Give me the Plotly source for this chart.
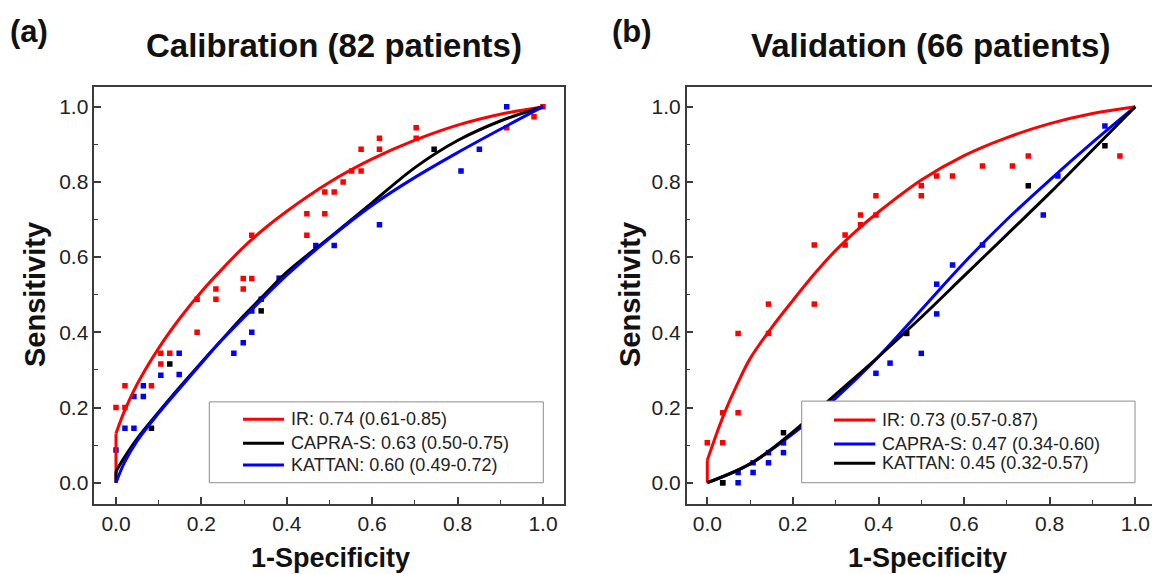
import plotly.graph_objects as go

W, H = 1152, 574
FONT = "Liberation Sans, Arial, sans-serif"
RED, BLUE, BLACK = "#ff0000", "#0000ff", "#000000"

# ---------------- Panel (a): Calibration (82 patients) ----------------
a_ir_curve_x = [0, 0, .02, .05, .1, .15, .2, .25, .3, .35, .4, .5, .6, .7, .8, .9, 1]
a_ir_curve_y = [0, .131, .191, .263, .358, .438, .508, .57, .628, .678, .722, .799, .861, .911, .951, .98, 1]
a_capra_curve_x = [0, 0, .02, .05, .1, .15, .2, .25, .3, .35, .4, .5, .6, .7, .8, .9, 1]
a_capra_curve_y = [0, .03, .068, .118, .188, .255, .32, .383, .445, .503, .56, .652, .745, .838, .91, .962, 1]
a_kattan_curve_x = [0, .02, .05, .1, .15, .2, .25, .3, .35, .4, .5, .6, .7, .8, .9, 1]
a_kattan_curve_y = [0, .054, .112, .185, .252, .318, .382, .44, .497, .552, .65, .738, .812, .878, .94, 1]

a_ir_pts_x = [0, .021, .021, .083, .105, .105, .126, .19, .19, .234, .234, .298, .298, .318, .318, .447, .447,
              .489, .489, .511, .532, .552, .574, .574, .617, .617, .703, .703, .915, .979, 1]
a_ir_pts_y = [.2, .2, .258, .258, .316, .344, .344, .40, .488, .488, .515, .515, .543, .543, .658, .658, .715,
              .715, .773, .773, .80, .829, .829, .887, .887, .916, .916, .944, .944, .973, 1]
a_capra_pts_x = [.083, .126, .34, .745]
a_capra_pts_y = [.145, .316, .457, .887]
a_kattan_pts_x = [0, .021, .042, .042, .064, .064, .105, .148, .148, .276, .298, .318, .318, .34, .382,
                  .468, .511, .617, .808, .851, .915]
a_kattan_pts_y = [.087, .145, .145, .229, .229, .258, .286, .288, .344, .344, .372, .40, .457, .488, .544,
                  .631, .631, .686, .829, .887, 1.0]

a_labels = ["IR: 0.74 (0.61-0.85)", "CAPRA-S: 0.63 (0.50-0.75)", "KATTAN: 0.60 (0.49-0.72)"]
a_colors = [RED, BLACK, BLUE]

# ---------------- Panel (b): Validation (66 patients) ----------------
b_ir_curve_x = [0, 0, .02, .04, .07, .1, .15, .2, .25, .3, .35, .4, .5, .6, .7, .8, .9, 1]
b_ir_curve_y = [0, .06, .125, .185, .262, .33, .412, .485, .555, .618, .672, .72, .805, .87, .918, .955, .982, 1]
b_capra_curve_x = [0, .1, .2, .3, .4, .5, .6, .7, .8, .9, 1]
b_capra_curve_y = [0, .05, .13, .225, .335, .46, .585, .70, .805, .905, 1]
b_kattan_curve_x = [0, .1, .2, .3, .4, .5, .6, .7, .8, .9, 1]
b_kattan_curve_y = [0, .05, .135, .235, .335, .44, .55, .66, .77, .885, 1]

b_ir_pts_x = [0, .036, .036, .072, .072, .143, .143, .25, .25, .322, .322, .358, .358, .394, .394, .50, .50,
              .536, .573, .643, .713, .75, .964]
b_ir_pts_y = [.106, .106, .186, .186, .397, .397, .475, .475, .632, .632, .659, .686, .712, .712, .763, .763, .79,
              .816, .816, .842, .842, .869, .869]
b_capra_pts_x = [.036, .072, .072, .107, .107, .143, .143, .178, .178, .394, .427, .50, .536, .536, .573, .643,
                 .785, .819, .929]
b_capra_pts_y = [0, 0, .027, .027, .053, .053, .08, .08, .106, .291, .318, .344, .449, .528, .579, .632,
                 .712, .816, .949]
b_kattan_pts_x = [.036, .178, .466, .75, .929]
b_kattan_pts_y = [0, .133, .397, .79, .896]

b_labels = ["IR: 0.73 (0.57-0.87)", "CAPRA-S: 0.47 (0.34-0.60)", "KATTAN: 0.45 (0.32-0.57)"]
b_colors = [RED, BLUE, BLACK]

fig = go.Figure()


def add_curve(cx, cy, color, name, xa, ya, vertical_start):
    if vertical_start:
        fig.add_trace(go.Scatter(x=cx[:2], y=cy[:2], mode="lines", line=dict(color=color, width=3),
                                 xaxis=xa, yaxis=ya, showlegend=False, hoverinfo="skip"))
        cx, cy = cx[1:], cy[1:]
    fig.add_trace(go.Scatter(x=cx, y=cy, mode="lines", name=name,
                             line=dict(color=color, width=3, shape="spline", smoothing=1.0),
                             xaxis=xa, yaxis=ya, showlegend=False))


def add_pts(px, py, color, xa, ya):
    fig.add_trace(go.Scatter(x=px, y=py, mode="markers",
                             marker=dict(symbol="square", size=5.5, color=color, line=dict(width=0)),
                             xaxis=xa, yaxis=ya, showlegend=False, hoverinfo="skip"))


# panel a
add_pts(a_ir_pts_x, a_ir_pts_y, RED, "x", "y")
add_pts(a_capra_pts_x, a_capra_pts_y, BLACK, "x", "y")
add_pts(a_kattan_pts_x, a_kattan_pts_y, BLUE, "x", "y")
add_curve(a_ir_curve_x, a_ir_curve_y, RED, a_labels[0], "x", "y", True)
add_curve(a_capra_curve_x, a_capra_curve_y, BLACK, a_labels[1], "x", "y", True)
add_curve(a_kattan_curve_x, a_kattan_curve_y, BLUE, a_labels[2], "x", "y", False)

# panel b
add_pts(b_ir_pts_x, b_ir_pts_y, RED, "x2", "y2")
add_pts(b_capra_pts_x, b_capra_pts_y, BLUE, "x2", "y2")
add_pts(b_kattan_pts_x, b_kattan_pts_y, BLACK, "x2", "y2")
add_curve(b_ir_curve_x, b_ir_curve_y, RED, b_labels[0], "x2", "y2", True)
add_curve(b_capra_curve_x, b_capra_curve_y, BLUE, b_labels[1], "x2", "y2", False)
add_curve(b_kattan_curve_x, b_kattan_curve_y, BLACK, b_labels[2], "x2", "y2", False)

FRAME = "#3c3c3c"


def axis(domain, rng, mirror, anchor):
    return dict(domain=domain, range=rng, anchor=anchor, showgrid=False, zeroline=False,
                showline=True, linecolor=FRAME, linewidth=1.5, mirror=mirror,
                ticks="inside", ticklen=7, tickwidth=1.5, tickcolor=FRAME,
                dtick=0.2, tick0=0, tickformat=".1f",
                minor=dict(ticks="inside", ticklen=4, tickwidth=1.2, tickcolor=FRAME, dtick=0.1, tick0=0, showgrid=False),
                tickfont=dict(family=FONT, size=21, color="#222"))


ydom = [(H - 504) / H, (H - 87.3) / H]
yrng = [-0.0566, 1.0516]

# manual legend boxes (white, drawn over the curves), swatch lines and labels
shapes = [
    dict(type="rect", xref="x", yref="y", x0=0.2185, x1=1.0007, y0=0.0, y1=0.215,
         line=dict(color="#8c8c8c", width=1), fillcolor="white", layer="above"),
    dict(type="rect", xref="x2", yref="y2", x0=0.2206, x1=0.9993, y0=0.0, y1=0.217,
         line=dict(color="#8c8c8c", width=1), fillcolor="white", layer="above"),
]
legend_rows_a = [0.1686, 0.1048, 0.0471]
legend_rows_b = [0.1668, 0.1030, 0.0516]
annots = []
for rows, labels, colors, xr, yr, x0, x1, xt in [
    (legend_rows_a, a_labels, a_colors, "x", "y", 0.2974, 0.3934, 0.405),
    (legend_rows_b, b_labels, b_colors, "x2", "y2", 0.2960, 0.3925, 0.4035),
]:
    for ry, lab, col in zip(rows, labels, colors):
        shapes.append(dict(type="line", xref=xr, yref=yr, x0=x0, x1=x1, y0=ry, y1=ry,
                           line=dict(color=col, width=3), layer="above"))
        annots.append(dict(text=lab, x=xt, y=ry, xref=xr, yref=yr, xanchor="left", yanchor="middle",
                           showarrow=False, font=dict(family=FONT, size=18, color="#222")))

fig.update_layout(
    width=W, height=H, autosize=False,
    margin=dict(l=0, r=0, t=0, b=0),
    paper_bgcolor="white", plot_bgcolor="white",
    showlegend=False,
    xaxis=axis([94.3 / W, 563.8 / W], [-0.0508, 1.0487], True, "y"),
    yaxis=axis(ydom, yrng, True, "x"),
    xaxis2=axis([686.7 / W, 1.0], [-0.0481, 1.039], True, "y2"),
    yaxis2=axis(ydom, yrng, False, "x2"),
    shapes=shapes,
)

for a in annots:
    fig.add_annotation(**a)

ann = [
    dict(text="<b>(a)</b>", x=29 / W, y=1 - 31 / H, size=31),
    dict(text="<b>(b)</b>", x=632 / W, y=1 - 31 / H, size=31),
    dict(text="<b>Calibration (82 patients)</b>", x=334 / W, y=1 - 45 / H, size=33),
    dict(text="<b>Validation (66 patients)</b>", x=930 / W, y=1 - 45 / H, size=33),
    dict(text="<b>1-Specificity</b>", x=330 / W, y=1 - 558 / H, size=27),
    dict(text="<b>1-Specificity</b>", x=927 / W, y=1 - 558 / H, size=27),
    dict(text="<b>Sensitivity</b>", x=35 / W, y=1 - 295 / H, size=29, angle=-90),
    dict(text="<b>Sensitivity</b>", x=630 / W, y=1 - 295 / H, size=29, angle=-90),
]
for a in ann:
    fig.add_annotation(text=a["text"], x=a["x"], y=a["y"], xref="paper", yref="paper",
                       xanchor="center", yanchor="middle", showarrow=False,
                       textangle=a.get("angle", 0),
                       font=dict(family=FONT, size=a["size"], color="#111"))

fig.write_html("out.html")
